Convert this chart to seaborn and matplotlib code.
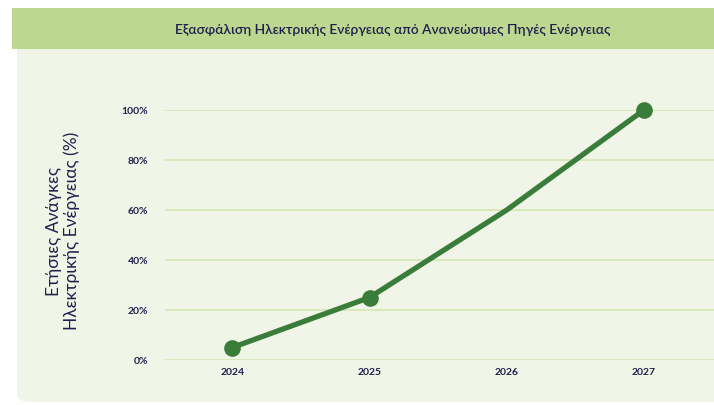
import matplotlib
matplotlib.use("Agg")
import matplotlib.pyplot as plt
import seaborn as sns
import pandas as pd
from matplotlib.patches import Rectangle, FancyBboxPatch

years = [2024, 2025, 2026, 2027]
values = [5, 25, 60, 100]
y_ticks = [0, 20, 40, 60, 80, 100]
y_tick_labels = ["0%", "20%", "40%", "60%", "80%", "100%"]
title = "Εξασφάλιση Ηλεκτρικής Ενέργειας από Ανανεώσιμες Πηγές Ενέργειας"
ylabel = "Ετήσιες Ανάγκες\nΗλεκτρικής Ενέργειας (%)"

sns.set_theme(style="white")
plt.rcParams['font.family'] = ['Lato', 'DejaVu Sans']

W, H = 714, 405
fig = plt.figure(figsize=(W / 100, H / 100), dpi=100)
fig.patch.set_facecolor("white")

navy = "#1f1f4d"
panel = "#f0f5e7"
band = "#bcd890"
grid = "#d3e6b0"
line_c = "#3a7d3a"

# background panel: rounded bottom part + square top part
fig.patches.append(FancyBboxPatch((17 / W, 3 / H), 1.2, 200 / H,
                                  boxstyle="round,pad=0,rounding_size=0.02",
                                  transform=fig.transFigure, facecolor=panel,
                                  edgecolor="none", zorder=0))
fig.patches.append(Rectangle((17 / W, 100 / H), 1, (H - 49 - 100) / H,
                             transform=fig.transFigure, facecolor=panel,
                             edgecolor="none", zorder=0))
fig.patches.append(Rectangle((12 / W, 1 - 49 / H), 1, 41 / H,
                             transform=fig.transFigure, facecolor=band,
                             edgecolor="none", zorder=1))
fig.text(393 / W, 1 - 30 / H, title, ha="center", va="center",
         fontsize=9.9, fontweight="semibold", color=navy)

ax = fig.add_axes([165 / W, 1 - 360 / H, 1 - 165 / W, 250 / H])
ax.set_zorder(3)
ax.set_facecolor("none")

df = pd.DataFrame({"year": years, "value": values})
sns.lineplot(data=df, x="year", y="value", ax=ax, color=line_c, linewidth=3.8,
             marker="o", markersize=12, markevery=[0, 1, 3],
             markeredgewidth=0, clip_on=False, zorder=3)

ax.set_xlim(2023.51, 2027.51)
ax.set_ylim(0, 100)
ax.set_yticks(y_ticks)
ax.set_yticklabels(y_tick_labels)
ax.set_xticks(years)
ax.set_xticklabels([str(y) for y in years])
for s in ax.spines.values():
    s.set_visible(False)
ax.grid(axis="y", color=grid, linewidth=1.2)
ax.grid(axis="x", visible=False)
ax.tick_params(axis="y", length=0, pad=12, labelsize=7.5, labelcolor=navy)
ax.tick_params(axis="x", length=4, width=1, color="#a9d36a", direction="inout",
               pad=4, labelsize=7.5, labelcolor=navy)
for lab in ax.get_xticklabels() + ax.get_yticklabels():
    lab.set_fontweight("bold")
ax.set_xlabel("")
ax.set_ylabel("")
fig.text(63 / W, 1 - 231 / H, ylabel, rotation=90, ha="center", va="center",
         fontsize=12.5, color=navy, linespacing=1.1)

fig.savefig("out.png", dpi=100, facecolor="white")
